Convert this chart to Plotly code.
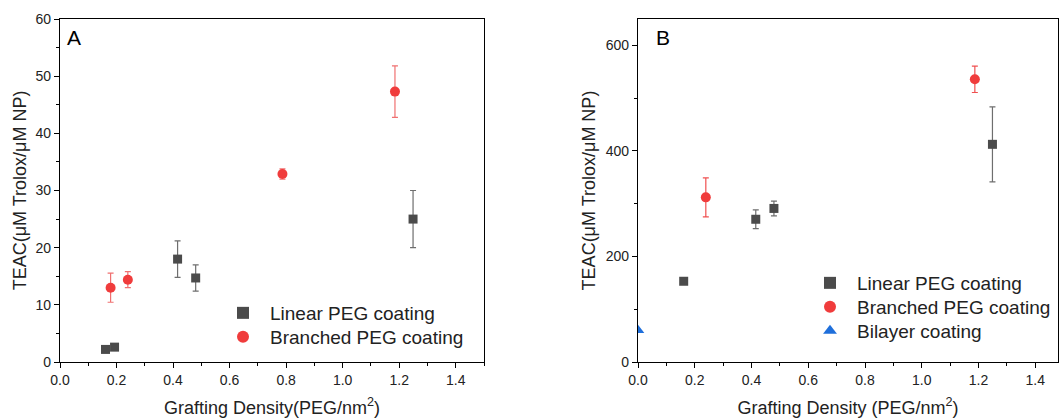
import plotly.graph_objects as go

# Panel A data
a_lin_x = [0.161, 0.193, 0.416, 0.48, 1.249]
a_lin_y = [2.2, 2.6, 18.0, 14.7, 25.0]
a_lin_err = [0.0, 0.0, 3.2, 2.3, 5.0]
a_br_x = [0.179, 0.240, 0.787, 1.185]
a_br_y = [13.0, 14.4, 32.9, 47.3]
a_br_err = [2.55, 1.4, 0.9, 4.5]

# Panel B data
b_lin_x = [0.161, 0.415, 0.479, 1.249]
b_lin_y = [153.0, 270.5, 291.0, 412.5]
b_lin_err = [0.0, 17.7, 14.0, 71.0]
b_br_x = [0.239, 1.187]
b_br_y = [312.0, 535.7]
b_br_err = [37.0, 25.0]
b_bi_x = [0.0]
b_bi_y = [60.0]

GRAY = "#4b4b4b"
RED = "#f03c3c"
BLUE = "#1f6fdb"
FONT = "Liberation Sans, Arial, sans-serif"

W, H = 1059, 420
ML, MR, MT, MB = 60, 1, 19, 58
PW, PH = W - ML - MR, H - MT - MB


def px(x):
    return (x - ML) / PW


def py(y):
    return (H - MB - y) / PH


fig = go.Figure()


def add(x, y, err, name, color, ecolor, symbol, xa, ya, legend, size=9):
    fig.add_trace(go.Scatter(
        x=x, y=y, mode="markers", name=name, showlegend=True,
        marker=dict(color=color, symbol=symbol, size=size),
        error_y=dict(type="data", array=err, visible=True,
                     color=ecolor, thickness=1.2, width=3) if err is not None else None,
        xaxis=xa, yaxis=ya, legend=legend,
    ))


add(a_lin_x, a_lin_y, a_lin_err, "Linear PEG coating", GRAY, "#6e6e6e", "square", "x", "y", "legend")
add(a_br_x, a_br_y, a_br_err, "Branched PEG coating", RED, "#f07070", "circle", "x", "y", "legend2", 10)
add(b_lin_x, b_lin_y, b_lin_err, "Linear PEG coating", GRAY, "#6e6e6e", "square", "x2", "y2", "legend3")
add(b_br_x, b_br_y, b_br_err, "Branched PEG coating", RED, "#f05050", "circle", "x2", "y2", "legend4", 10)
add(b_bi_x, b_bi_y, None, "Bilayer coating", BLUE, BLUE, "triangle-up", "x2", "y2", "legend5", 11)

axis_common = dict(
    showline=True, linecolor="black", linewidth=1.2, mirror=True,
    ticks="outside", ticklen=5, tickwidth=1, tickcolor="black",
    showgrid=False, zeroline=False, automargin=False,
    tickfont=dict(family=FONT, size=14, color="#222"),
    minor=dict(ticks="outside", ticklen=3, tickwidth=1, tickcolor="black"),
)

TFONT = dict(family=FONT, size=18, color="#222")


def leg(xp, yp):
    return dict(x=px(xp), y=py(yp), xanchor="left", yanchor="top",
                bgcolor="rgba(0,0,0,0)",
                font=dict(family=FONT, size=19, color="#222"),
                itemsizing="constant", itemwidth=44, visible=True)


fig.update_layout(
    width=W, height=H,
    showlegend=True,
    margin=dict(l=ML, r=MR, t=MT, b=MB),
    paper_bgcolor="white", plot_bgcolor="white",
    font=dict(family=FONT, color="#222"),
    xaxis=dict(domain=[0, px(484)], range=[0, 1.5], dtick=0.2,
               tickformat=".1f", minor_dtick=0.1, anchor="y",
               title=dict(text="Grafting Density(PEG/nm<sup>2</sup>)",
                          font=TFONT, standoff=14),
               **axis_common),
    yaxis=dict(domain=[0, 1], range=[0, 60], dtick=10,
               minor_dtick=5, anchor="x",
               title=dict(text="TEAC(μM Trolox/μM NP)",
                          font=TFONT, standoff=4),
               **axis_common),
    xaxis2=dict(domain=[px(638), 1], range=[0, 1.48], dtick=0.2,
                tickformat=".1f", minor_dtick=0.1, anchor="y2",
                title=dict(text="Grafting Density (PEG/nm<sup>2</sup>)",
                           font=TFONT, standoff=14),
                **axis_common),
    yaxis2=dict(domain=[0, 1], range=[0, 650], dtick=200,
                minor_dtick=100, anchor="x2",
                title=dict(text="TEAC(μM Trolox/μM NP)",
                           font=TFONT, standoff=5),
                **axis_common),
    legend=leg(216, 294),
    legend2=leg(216, 318),
    legend3=leg(803, 264),
    legend4=leg(803, 288),
    legend5=leg(803, 312),
    annotations=[
        dict(text="A", x=px(65), y=py(38), xref="paper", yref="paper",
             xanchor="left", yanchor="middle", showarrow=False,
             font=dict(family=FONT, size=21, color="black")),
        dict(text="B", x=px(654), y=py(38), xref="paper", yref="paper",
             xanchor="left", yanchor="middle", showarrow=False,
             font=dict(family=FONT, size=21, color="black")),
    ],
)

fig.write_html("out.html")
